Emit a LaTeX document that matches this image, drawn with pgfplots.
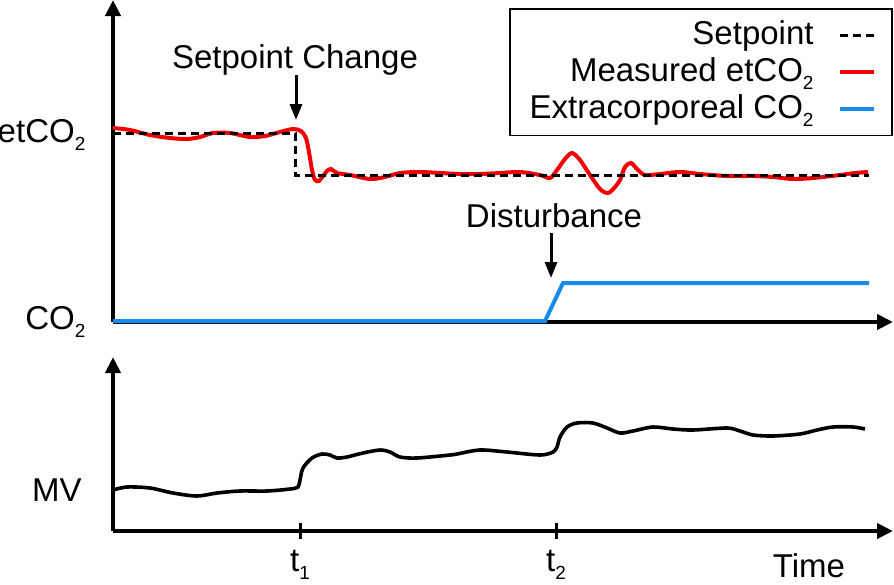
\documentclass[border=0pt]{standalone}
\usepackage{fontspec}
\setmainfont{Liberation Sans}
\usepackage{pgfplots}
\pgfplotsset{compat=1.18}
\usetikzlibrary{arrows.meta}

\definecolor{measred}{RGB}{240,0,0}
\definecolor{ecblue}{RGB}{20,140,235}
\newcommand{\sub}[1]{\raisebox{-0.45ex}{\fontsize{9.5}{10}\selectfont #1}}
\newcommand{\bigfont}{\fontsize{16.5}{19.5}\selectfont}

\pgfplotsset{
  schem/.style={
    axis lines=left, clip=false,
    x=0.5pt, y=0.5pt, xmin=0, xmax=780, ymin=0,
    axis line style={line width=2pt},
    x axis line style={-{Triangle[length=8pt,width=7.5pt]}},
    y axis line style={-{Triangle[length=8pt,width=7.5pt]}},
    every tick label/.append style={font=\bigfont},
    ytick style={draw=none},
    yticklabel style={xshift=-6pt},
  },
}

\begin{document}
\bigfont
\begin{tikzpicture}
\path[use as bounding box] (0,0) rectangle (447pt,-292pt);

% upper panel: etCO2 and extracorporeal CO2
\begin{axis}[schem, at={(56.5pt,-161pt)}, anchor=south west,
  ymax=322, xtick=\empty,
  ytick={0,187}, yticklabels={CO\sub{2}, etCO\sub{2}},
  legend plot pos=right, legend cell align=right,
  legend style={at={(axis cs:779.5,314)}, anchor=north east, draw=black,
    line width=0.8pt, font=\bigfont,
    inner xsep=8pt, inner ysep=4pt, row sep=0pt, column sep=10pt},
]
\addlegendimage{black, line width=1.5pt, dash pattern=on 4pt off 2.5pt}
\addlegendentry{Setpoint}
\addlegendimage{measred, line width=2pt}
\addlegendentry{Measured etCO\sub{2}}
\addlegendimage{ecblue, line width=2pt}
\addlegendentry{Extracorporeal CO\sub{2}}

\addplot[forget plot, measred, line width=2pt, smooth, tension=0.5] coordinates {
(0,194)(17,192)(37,187)(57,184)(74,183)(87,185)(100,189)(117,189)(137,185)
(152,186)(167,190)(180,193)(188,191)(193,184)(196,170)(199,152)(202,142)
(206,141)(210,146)(214,151)(218,153)(224,149)(237,147)(257,143)(272,145)
(287,149)(307,150)(327,149)(347,148)(367,148)(387,149)(407,150)(427,147)
(437,144)(444,152)(452,163)(459,169)(467,162)(477,147)(487,133)(495,129)
(502,135)(507,142)(512,155)(518,159)(524,153)(532,147)(547,148)(567,150)
(587,148)(614,146)(640,146)(660,145)(680,143)(700,144)(727,147)(742,149)(755,150)
};
\addplot[forget plot, black, line width=1.5pt, dash pattern=on 4pt off 2.5pt] coordinates {
(0,189)(182,189)(182,147)(756,147)
};
\addplot[forget plot, ecblue, line width=2pt] coordinates {
(0,1)(432,1)(450,39)(756,39)
};

\node[anchor=base] at (axis cs:182,254) {Setpoint Change};
\draw[line width=1.5pt, -{Triangle[length=8pt,width=6pt]}] (axis cs:183,247) -- (axis cs:183,202);
\node[anchor=base] at (axis cs:441,95) {Disturbance};
\draw[line width=1.5pt, -{Triangle[length=8pt,width=6pt]}] (axis cs:438,89) -- (axis cs:438,44);
\end{axis}

% lower panel: minute ventilation
\begin{axis}[schem, at={(56.5pt,-265.5pt)}, anchor=south west,
  ymax=174,
  xtick={187,443}, xticklabels={t\sub{1}, t\sub{2}},
  tick align=center, major tick length=8pt,
  xtick style={line width=1.5pt, black},
  ytick={41}, yticklabels={MV},
]
\addplot[black, line width=1.8pt, smooth, tension=0.5] coordinates {
(0,41)(14,44)(37,43)(60,38)(84,35)(104,38)(127,40)(154,40)(177,42)(185,44)
(187,51)(190,63)(199,73)(209,77)(217,76)(224,73)(234,74)(250,78)(267,81)
(277,79)(287,74)(304,73)(337,76)(344,77)(367,81)(394,79)(427,76)(440,79)
(444,84)(447,94)(454,104)(464,108)(480,108)(494,103)(507,98)(520,100)
(540,104)(560,102)(580,101)(614,103)(627,100)(640,96)(660,95)(687,97)
(704,101)(720,104)(740,104)(752,102)
};
\node[anchor=base] at (axis cs:696,-46) {Time};
\end{axis}
\end{tikzpicture}
\end{document}
